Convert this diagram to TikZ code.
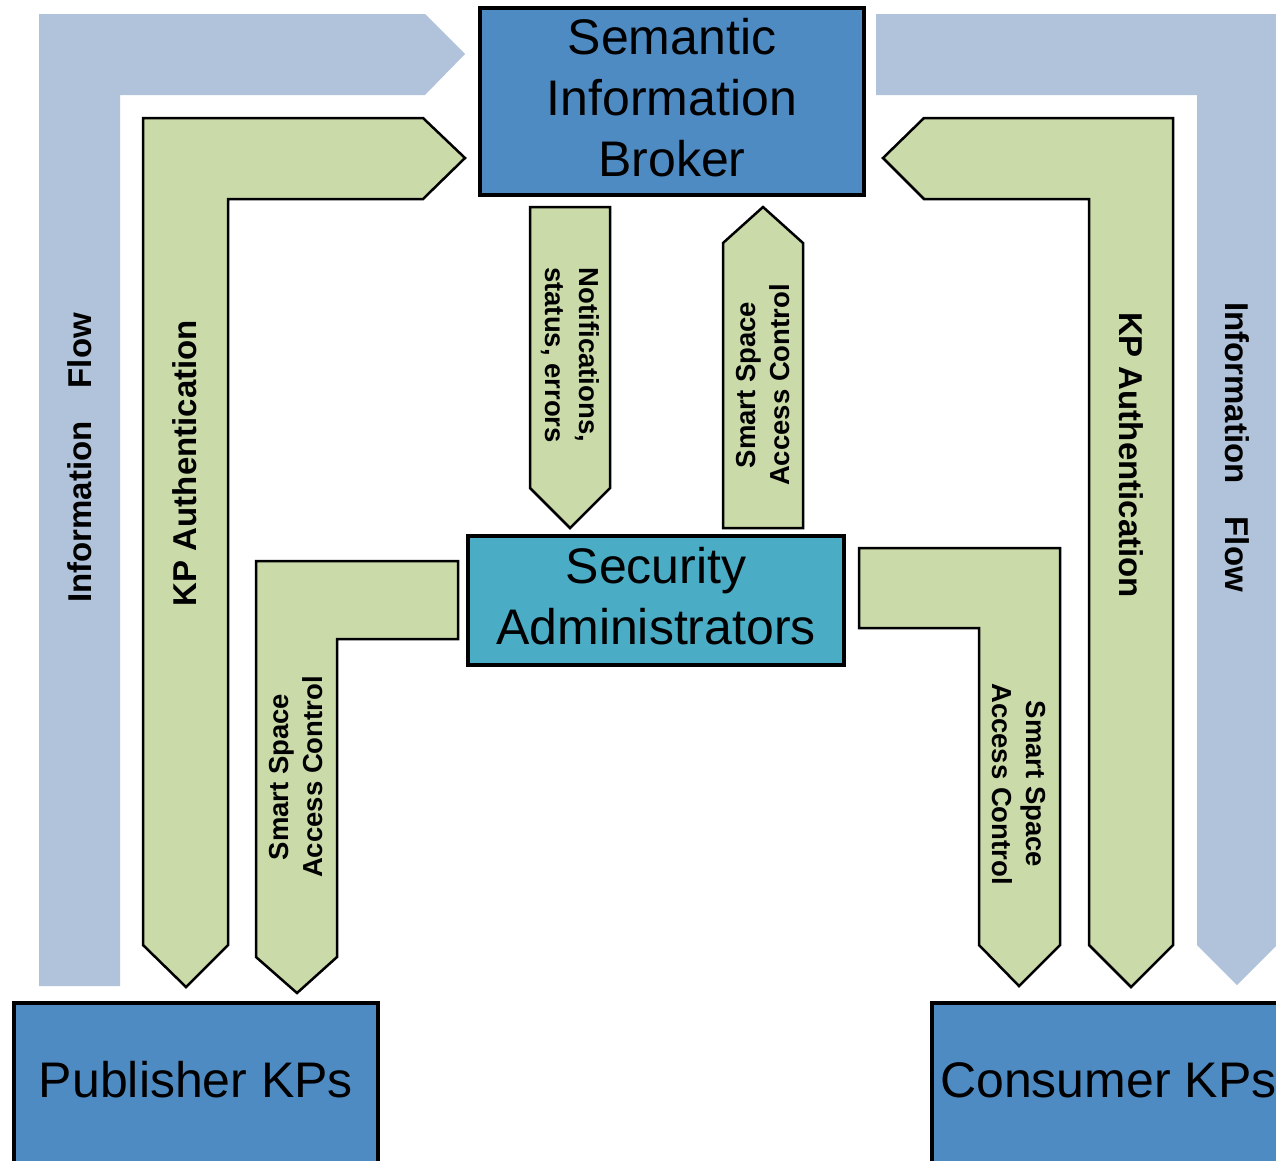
\documentclass[tikz,border=0pt]{standalone}
\usepackage{fontspec}
\setmainfont{Liberation Sans}
\definecolor{sibblue}{RGB}{79,139,195}
\definecolor{secteal}{RGB}{75,172,198}
\definecolor{arrgreen}{RGB}{203,218,169}
\definecolor{flowblue}{RGB}{176,195,219}
\begin{document}
\begin{tikzpicture}[x=1pt,y=-1pt,
  box/.style={draw=black, line width=4pt, inner sep=0pt, align=center,
    font=\fontsize{50}{61}\selectfont},
  flow/.style={fill=flowblue, draw=none},
  garrow/.style={fill=arrgreen, draw=black, line width=2.5pt, line join=miter},
  biglbl/.style={font=\bfseries\fontsize{33}{40}\selectfont, inner sep=0pt},
  smalllbl/.style={font=\bfseries\fontsize{27.5}{34}\selectfont, align=center, inner sep=0pt},
  kplbl/.style={font=\fontsize{50}{61}\selectfont, inner sep=0pt}]
\useasboundingbox (0,0) rectangle (1276,1160);
\clip (0,0) rectangle (1276,1160);

% Information flow arrows (light blue)
\draw[flow] (39,986) -- (39,14) -- (425,14) -- (465,54) -- (425,95) -- (120,95) -- (120,986) -- cycle;
\draw[flow] (876,14) -- (1277,14) -- (1277,945) -- (1237,985) -- (1197,945) -- (1197,95) -- (876,95) -- cycle;
\node[biglbl, rotate=90] (flowL) at (80,458) {Information\hspace{1em}Flow};
\node[biglbl, rotate=-90] (flowR) at (1237,447) {Information\hspace{1em}Flow};

% KP Authentication arrows
\draw[garrow] (143,945) -- (143,118) -- (423,118) -- (465,158) -- (423,199) -- (228,199) -- (228,945) -- (186,987) -- cycle;
\draw[garrow] (1173,945) -- (1173,118) -- (924,118) -- (883,158) -- (924,199) -- (1089,199) -- (1089,945) -- (1131,987) -- cycle;
\node[biglbl, rotate=90] (authL) at (185,463) {KP Authentication};
\node[biglbl, rotate=-90] (authR) at (1131,455) {KP Authentication};

% Notifications (down) and access control (up)
\draw[garrow] (530,207) -- (610,207) -- (610,488) -- (570,528) -- (530,488) -- cycle;
\draw[garrow] (723,528) -- (723,243) -- (763,207) -- (803,243) -- (803,528) -- cycle;
\node[smalllbl, rotate=-90] (notif) at (570,355) {Notifications,\\status, errors};
\node[smalllbl, rotate=90] (accUp) at (763,385) {Smart Space\\Access Control};

% Access control L-arrows to KPs
\draw[garrow] (256,957) -- (256,561) -- (458,561) -- (458,639) -- (337,639) -- (337,957) -- (297,993) -- cycle;
\draw[garrow] (859,548) -- (1060,548) -- (1060,945) -- (1019,986) -- (979,945) -- (979,628) -- (859,628) -- cycle;
\node[smalllbl, rotate=90] (accL) at (296,777) {Smart Space\\Access Control};
\node[smalllbl, rotate=-90] (accR) at (1019,784) {Smart Space\\Access Control};

% Boxes
\node[box, fill=sibblue, minimum width=384pt, minimum height=187pt, text depth=8pt] (sib) at (672,101.5) {Semantic\\Information\\Broker};
\node[box, fill=secteal, minimum width=376pt, minimum height=129pt, text depth=10pt] (sec) at (656,600.5) {Security\\Administrators};
\node[box, fill=sibblue, minimum width=364pt, minimum height=220pt, anchor=north] (pub) at (196,1001) {};
\node[box, fill=sibblue, minimum width=380pt, minimum height=220pt, anchor=north west] (con) at (930,1001) {};
\node[kplbl, anchor=base] (pubtxt) at (196,1097) {Publisher KPs};
\node[kplbl, anchor=base west] (contxt) at (940,1097) {Consumer KPs};
\end{tikzpicture}
\end{document}
